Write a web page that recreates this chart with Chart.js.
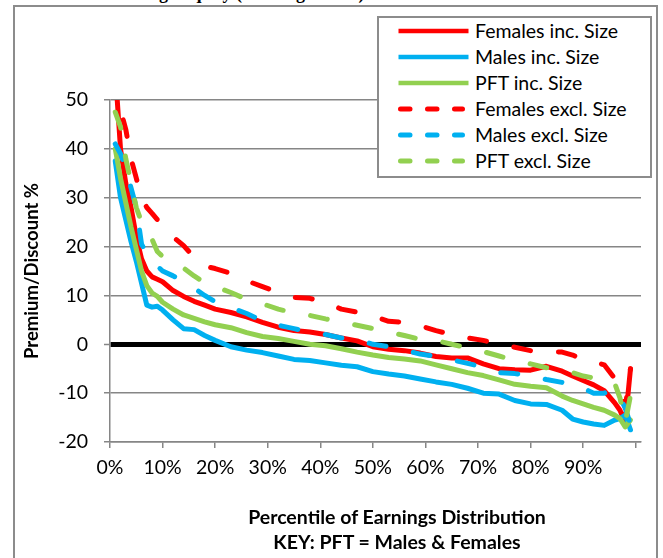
<!DOCTYPE html>
<html>
<head>
<meta charset="utf-8">
<script src="https://cdn.jsdelivr.net/npm/chart.js@4.4.1/dist/chart.umd.min.js"></script>
<style>
  body { margin: 0; width: 663px; height: 558px; overflow: hidden; background: #fff; position: relative; font-family: Lato, "Open Sans", sans-serif; }
  #frame { position: absolute; left: 13px; top: 5px; width: 641px; height: 600px; border: 2px solid #8c8c8c; }
  #titulo { position: absolute; left: 105px; top: -16px; font: bold 18px "Liberation Serif", serif; line-height: 18px; white-space: nowrap; }
  #grafico { position: absolute; left: 0; top: 0; }
  #leyenda { position: absolute; left: 377px; top: 16px; width: 271px; height: 158px; border: 2px solid #8c8c8c; background: #fff; }
  .fila { position: absolute; left: 0; height: 26px; width: 271px; }
  .fila svg { position: absolute; left: 19px; top: 8px; }
  .fila span { position: absolute; left: 96px; top: 1px; font-size: 19.5px; color: #000; white-space: nowrap; }
  .ejeX { position: absolute; width: 400px; left: 197px; text-align: center; font-weight: bold; font-size: 19.5px; }
</style>
</head>
<body>
<div id="frame"></div>
<div id="titulo">Earnings Equity (Earnings Ratio)</div>
<canvas id="grafico" width="663" height="558"></canvas>
<div id="leyenda"></div>
<div class="ejeX" style="top:505px">Percentile of Earnings Distribution</div>
<div class="ejeX" style="top:530px">KEY: PFT = Males &amp; Females</div>
<script>
// Datos (percentil -> prima/descuento %)
const percentiles = [1,2,3,4,5,6,7,8,9,10,12,14,16,18,20,23,26,29,32,35,38,41,44,47,50,53,56,59,62,65,68,71,74,77,80,83,86,88,90,92,94,96,97,98,99];

const femalesInc = [56,40,33,28,22,17.5,15,13.8,13.3,12.8,11,9.8,8.8,8,7.2,6.5,5.6,4.5,3.5,2.8,2.5,2,1.3,0.7,-0.5,-1,-1.3,-1.8,-2.5,-2.8,-2.8,-4,-5,-5.2,-5.3,-4.5,-5.5,-6.5,-7.4,-8.3,-9.5,-12,-13.5,-16,-5];
const malesInc = [37.5,30,25.5,21,17,12.5,8,7.6,7.8,7,5,3.2,3,1.8,0.8,-0.5,-1.2,-1.7,-2.4,-3.1,-3.3,-3.8,-4.3,-4.6,-5.6,-6.1,-6.5,-7.1,-7.7,-8.2,-9,-10,-10.2,-11.5,-12.2,-12.3,-13.5,-15.3,-15.9,-16.3,-16.6,-15.5,-15.2,-14.5,-17.5];
const pftInc = [40,34,29,24,19.5,15,12,10.5,9.8,8.6,7.2,6,5.3,4.6,4,3.4,2.4,1.6,1.2,0.6,0,-0.3,-0.9,-1.6,-2.2,-2.7,-3,-3.4,-4.2,-5,-5.8,-6.4,-7.3,-8.2,-8.6,-8.9,-10.6,-11.5,-12.2,-12.9,-13.5,-14.5,-15.2,-16.9,-15.5];
const femalesExcl = [55,48,44,38,34,30,28,26.8,25.5,24,22,20.2,17.8,16,15.5,14.5,13,11.8,10.6,9.6,9.4,8.6,7.2,6.6,5.8,4.7,4.5,3.8,2.8,2,1.3,0.8,0,-0.6,-1.3,-1.5,-1.6,-2.2,-3.2,-3.6,-4.2,-7,-8.8,-13,-5];
const malesExcl = [41,39,36,32,28,20.5,18.5,17.5,16,15,14,12.8,11.5,10,8.7,7.5,6.3,4.8,3.9,3.2,2.5,2,1.3,1,0,-0.5,-1.2,-2,-2.5,-3.2,-3.9,-4.7,-5.8,-6,-6.5,-7.2,-7.8,-8.7,-9,-10,-10,-9.2,-11,-13,-16.5];
const pftExcl = [47.5,44.5,38,33,28,25,23.5,21.5,19,18,16.6,15.6,14,12.6,11.8,10.6,9.2,8.3,7.2,6.4,5.9,5.2,4.6,3.9,3.2,2.5,1.8,1,0.8,0,-0.7,-1.5,-2.4,-3.3,-4,-4.8,-5.2,-5.8,-6.5,-6.9,-7.3,-8,-11,-16,-10.5];

const xTicks = [0,10,20,30,40,50,60,70,80,90,100];
const yTicks = [-20,-10,0,10,20,30,40,50];

const ROJO = '#ff0000';
const AZUL = '#00b0f0';
const VERDE = '#92d050';

// Crear una serie a partir de un array de valores
function serie(label, valores, color, discontinua) {
    return {
        label: label,
        data: percentiles.map((p, i) => ({ x: p, y: valores[i] })),
        borderColor: color,
        backgroundColor: color,
        borderWidth: 5,
        borderCapStyle: 'round',
        borderJoinStyle: 'round',
        borderDash: discontinua ? [17, 28] : [],
        pointRadius: 0,
        tension: 0,
        fill: false,
        discontinua: discontinua
    };
}

const series = [
    serie('Females inc. Size', femalesInc, ROJO, false),
    serie('Males inc. Size', malesInc, AZUL, false),
    serie('PFT inc. Size', pftInc, VERDE, false),
    serie('Females excl. Size', femalesExcl, ROJO, true),
    serie('Males excl. Size', malesExcl, AZUL, true),
    serie('PFT excl. Size', pftExcl, VERDE, true)
];
// como en Excel: la última serie se dibuja encima
series.forEach((s, i) => { s.order = series.length - i; });

const GRIS = '#868686';

const chart = new Chart(document.getElementById('grafico').getContext('2d'), {
    type: 'line',
    data: { datasets: series },
    options: {
        responsive: false,
        animation: false,
        devicePixelRatio: 1,
        layout: { padding: { top: 100, right: 22, left: 0, bottom: 0 } },
        plugins: {
            legend: { display: false },
            tooltip: { enabled: false }
        },
        scales: {
            x: {
                type: 'linear',
                min: 0,
                max: 101,
                afterBuildTicks: s => { s.ticks = xTicks.map(v => ({ value: v })); },
                afterFit: s => { s.height = 116; },
                ticks: {
                    autoSkip: false,
                    maxRotation: 0,
                    padding: 8,
                    color: '#000',
                    font: { family: 'Lato', size: 19.5 },
                    callback: v => v === 100 ? '' : v + '%'
                },
                grid: { drawOnChartArea: false, drawTicks: true, tickLength: 6, color: GRIS, lineWidth: 1.5 },
                border: { color: GRIS, width: 1.5 }
            },
            y: {
                min: -20,
                max: 50,
                afterBuildTicks: s => { s.ticks = yTicks.map(v => ({ value: v })); },
                afterFit: s => { s.width = 110; },
                ticks: {
                    padding: 16,
                    color: '#000',
                    font: { family: 'Lato', size: 19.5 }
                },
                grid: {
                    drawTicks: true,
                    tickLength: 6,
                    color: ctx => ctx.tick && ctx.tick.value === 0 ? '#000' : GRIS,
                    lineWidth: ctx => ctx.tick && ctx.tick.value === 0 ? 5 : 1.5,
                    tickColor: GRIS,
                    tickWidth: 1.5
                },
                border: { color: GRIS, width: 1.5 },
                title: {
                    display: true,
                    text: 'Premium/Discount %',
                    color: '#000',
                    font: { family: 'Lato', size: 18.5, weight: 'bold' },
                    padding: { top: 21, bottom: 0 }
                }
            }
        }
    }
});

// Leyenda en HTML dentro del área del gráfico
const leyenda = document.getElementById('leyenda');
leyenda.innerHTML = chart.data.datasets.map((ds, i) => `
    <div class="fila" style="top:${i * 26}px">
        <svg width="72" height="10"><line x1="${ds.discontinua ? 2.5 : 0.5}" y1="5" x2="${ds.discontinua ? 64.5 : 70.5}" y2="5"
            stroke="${ds.borderColor}" stroke-width="${ds.discontinua ? 5 : 4.5}"
            stroke-linecap="${ds.discontinua ? 'round' : 'butt'}"
            ${ds.discontinua ? 'stroke-dasharray="9.5 17.5"' : ''}/></svg>
        <span>${ds.label}</span>
    </div>
`).join('');
</script>
</body>
</html>
